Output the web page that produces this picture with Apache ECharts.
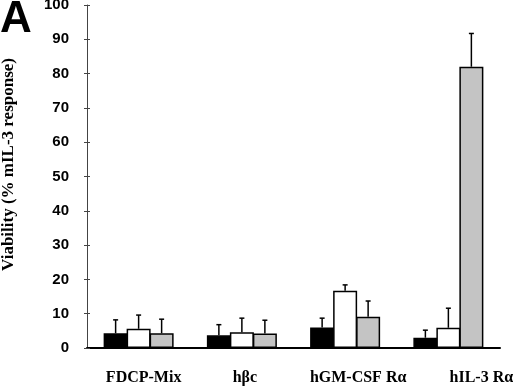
<!DOCTYPE html>
<html>
<head>
<meta charset="utf-8">
<script src="https://cdn.jsdelivr.net/npm/echarts@6/dist/echarts.min.js"></script>
<style>
  html, body { margin: 0; padding: 0; background: #fff; }
  #chart { width: 520px; height: 388px; }
</style>
</head>
<body>
<div id="chart"></div>
<script>
// categories (x axis)
const categories = ['FDCP-Mix', 'hβc', 'hGM-CSF Rα', 'hIL-3 Rα']
// bar heights
const blackVals = [4.3, 3.7, 6.0, 3.0]
const whiteVals = [5.6, 4.6, 16.7, 5.9]
const grayVals = [4.3, 4.2, 9.1, 82.0]
// upper error (added above the bar)
const blackErr = [3.9, 3.1, 2.7, 2.2]
const whiteErr = [4.0, 4.1, 1.7, 5.7]
const grayErr = [4.1, 3.9, 4.6, 9.7]
// y ticks
const yMin = 0
const yMax = 100
const yStep = 10

const BAR_W = 24
const BAR_STEP = 23 // bars share their border
// labels in the original sit a bit right of the group centres
const labelShift = [10, 6, 26, 66]

const serif = '"Liberation Serif", "Times New Roman", serif'
const sans = '"Liberation Sans", Arial, sans-serif'

function errSeries(vals, errs, k) {
  return {
    type: 'custom',
    xAxisIndex: 0,
    yAxisIndex: 0,
    z: 5,
    data: vals.map((v, i) => [i, v, errs[i]]),
    renderItem: function(params, api) {
      const i = api.value(0)
      const base = api.coord([i, api.value(1)])
      const top = api.coord([i, api.value(1) + api.value(2)])
      const cx = base[0] + (k - 1) * BAR_STEP
      const st = { stroke: '#000', lineWidth: 1.5 }
      return {
        type: 'group',
        children: [
          { type: 'line', shape: { x1: cx, y1: base[1], x2: cx, y2: top[1] }, style: st },
          { type: 'line', shape: { x1: cx - 2.5, y1: top[1], x2: cx + 2.5, y2: top[1] }, style: st }
        ]
      }
    }
  }
}

function barSeries(vals, color) {
  return {
    type: 'bar',
    barWidth: BAR_W,
    barGap: ((BAR_STEP - BAR_W) / BAR_W * 100) + '%',
    data: vals,
    itemStyle: { color: color, borderColor: '#000', borderWidth: 1.5 }
  }
}

const rich = {}
labelShift.forEach((p, i) => {
  rich['l' + i] = {
    fontFamily: serif,
    fontWeight: 'bold',
    fontSize: 16,
    color: '#000',
    padding: [0, 0, 0, p]
  }
})

const option = {
  animation: false,
  backgroundColor: '#fff',
  title: {
    text: 'A',
    left: 0,
    top: -2,
    padding: 0,
    textStyle: { fontFamily: sans, fontWeight: 'bold', fontSize: 44, color: '#000' }
  },
  grid: { left: 87, right: 20, top: 5, bottom: 40, outerBoundsMode: 'none', containLabel: false },
  xAxis: {
    type: 'category',
    data: categories,
    axisLine: { lineStyle: { color: '#000', width: 2 } },
    axisTick: { show: false },
    axisLabel: {
      interval: 0,
      hideOverlap: false,
      margin: 22,
      formatter: (v, i) => '{l' + i + '|' + v + '}',
      rich: rich
    }
  },
  yAxis: [
    {
      type: 'value',
      min: yMin,
      max: yMax,
      interval: yStep,
      name: 'Viability (% mIL-3 response)',
      nameLocation: 'middle',
      nameGap: 70,
      nameTextStyle: { fontFamily: serif, fontWeight: 'bold', fontSize: 17, color: '#000', padding: [0, 0, 0, 24] },
      splitLine: { show: false },
      axisLine: { show: true, lineStyle: { color: '#444', width: 1 } },
      axisTick: { show: true, length: 3, lineStyle: { color: '#444' } },
      axisLabel: { margin: 18, fontFamily: sans, fontWeight: 'bold', fontSize: 15, color: '#000' }
    },
    {
      // only the inner half of the ticks
      type: 'value',
      position: 'left',
      min: yMin,
      max: yMax,
      interval: yStep,
      splitLine: { show: false },
      axisLine: { show: false },
      axisTick: { show: true, inside: true, length: 3, lineStyle: { color: '#444' } },
      axisLabel: { show: false }
    }
  ],
  series: [
    barSeries(blackVals, '#000'),
    barSeries(whiteVals, '#fff'),
    barSeries(grayVals, '#c4c4c4'),
    errSeries(blackVals, blackErr, 0),
    errSeries(whiteVals, whiteErr, 1),
    errSeries(grayVals, grayErr, 2)
  ]
}

const chart = echarts.init(document.getElementById('chart'))
chart.setOption(option)
</script>
</body>
</html>
